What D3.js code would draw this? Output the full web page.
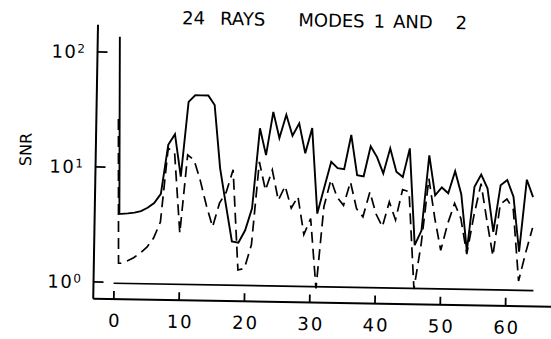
<!DOCTYPE html>
<html>
<head>
<meta charset="utf-8">
<script src="https://cdn.jsdelivr.net/npm/d3@7"></script>
<style>
  html, body { margin: 0; padding: 0; background: #fff; }
  svg { display: block; }
  text { font-family: "DejaVu Sans", "Liberation Sans", sans-serif; fill: #000; }
</style>
</head>
<body>
<svg id="chart" width="551" height="339"></svg>
<script>
// Ray number along the section (the first two entries form the start-up spike)
const rayPosition = [0.3, 0.7, 1, 2, 3, 4, 5, 6, 7, 8, 9, 10, 11, 12, 13, 14, 15, 16,
  17, 18, 19, 20, 21, 22, 23, 24, 25, 26, 27, 28, 29, 30, 31, 32, 33, 34, 35, 36,
  37, 38, 39, 40, 41, 42, 43, 44, 45, 46, 47, 48, 49, 50, 51, 52, 53, 54, 55, 56,
  57, 58, 59, 60, 61, 62, 63, 64];

// SNR, mode 1 (solid)
const snrMode1 = [135, 3.9, 3.9, 3.95, 4.02, 4.15, 4.45, 4.9, 5.9, 15.8, 19.6, 8.4,
  37.6, 43, 43, 43, 35.6, 10.1, 4.8, 2.33, 2.28, 2.93, 4.57, 22.7, 13.3, 31.7, 18.8,
  30, 19.8, 25.4, 14.0, 23.2, 4.2, 7.1, 11.9, 10.5, 10.3, 20.5, 9.2, 9.0, 16.5, 13.3,
  9.6, 15.9, 10.0, 9.0, 16.0, 2.31, 3.1, 14.0, 6.3, 7.4, 6.6, 10.3, 6.5, 2.1, 7.6,
  9.7, 7.4, 3.1, 7.9, 8.8, 6.3, 2.1, 8.9, 6.3];

// SNR, mode 2 (dashed)
const snrMode2 = [26, 1.45, 1.45, 1.52, 1.63, 1.79, 2.02, 2.43, 3.35, 14.8, 13.4, 2.71,
  13.0, 11.7, 7.8, 4.75, 3.1, 5.0, 6.25, 9.8, 1.32, 1.37, 2.2, 11.6, 6.6, 9.9, 5.4,
  7.2, 4.65, 5.85, 2.75, 3.8, 0.94, 4.85, 8.3, 5.85, 5.0, 8.0, 4.7, 4.0, 6.6, 4.25,
  3.3, 5.45, 3.8, 7.0, 6.7, 0.96, 2.4, 8.8, 4.0, 2.1, 3.6, 5.4, 4.0, 1.97, 4.3, 8.1,
  3.85, 1.92, 5.4, 6.0, 4.9, 1.17, 2.05, 3.4];

// Unit-SNR reference line
const referenceX = [0, 64.3];
const referenceSnr = [0.97, 0.97];

const xTickValues = [0, 10, 20, 30, 40, 50, 60];
const yTickValues = [1, 10, 100];
const yTickExponents = ["0", "1", "2"];

const titleWords = ["24", "RAYS", "MODES", "1", "AND", "2"];
const yLabel = "SNR";

const svg = d3.select("#chart");

// the whole plate sits about one degree off square on the page
const plate = svg.append("g").attr("transform", "rotate(1, 113, 283)");

const x = d3.scaleLinear().domain([0, 60]).range([113.6, 505.4]);
const y = d3.scaleLog().domain([1, 100]).range([281.7, 51.7]);

const axisX0 = 93.5;   // left edge of frame
const axisY0 = 299;    // bottom edge of frame

// frame lines
plate.append("line")
  .attr("x1", axisX0).attr("x2", axisX0)
  .attr("y1", 25).attr("y2", axisY0)
  .attr("stroke", "#000").attr("stroke-width", 2);
plate.append("line")
  .attr("x1", axisX0).attr("x2", 570)
  .attr("y1", axisY0).attr("y2", axisY0)
  .attr("stroke", "#000").attr("stroke-width", 2);

// x axis: ticks pointing up into the plot
const xAxis = d3.axisBottom(x)
  .tickValues(xTickValues)
  .tickSizeInner(-8)
  .tickSizeOuter(0)
  .tickPadding(15)
  .tickFormat(d3.format("d"));

const gx = plate.append("g")
  .attr("transform", `translate(0,${axisY0})`)
  .call(xAxis);
gx.select(".domain").remove();
gx.selectAll(".tick line").attr("stroke", "#000").attr("stroke-width", 1.8);
gx.selectAll(".tick text")
  .attr("font-size", 18)
  .attr("letter-spacing", 2)
  .attr("x", 1.5)
  .style("font-family", "DejaVu Sans, sans-serif");

// y axis: ticks pointing right, labels as powers of ten
const yAxis = d3.axisLeft(y)
  .tickValues(yTickValues)
  .tickSizeInner(-10)
  .tickSizeOuter(0)
  .tickPadding(11)
  .tickFormat(() => "10");

const gy = plate.append("g")
  .attr("transform", `translate(${axisX0},0)`)
  .call(yAxis);
gy.select(".domain").remove();
gy.selectAll(".tick line").attr("stroke", "#000").attr("stroke-width", 1.8);
gy.selectAll(".tick text")
  .attr("font-size", 18)
  .attr("letter-spacing", 1.5)
  .attr("dy", "0.36em")
  .style("font-family", "DejaVu Sans, sans-serif")
  .each(function (d) {
    const i = yTickValues.indexOf(d);
    d3.select(this).append("tspan")
      .attr("dy", "-0.45em")
      .attr("font-size", 12)
      .text(yTickExponents[i]);
  });

// y label
plate.append("text")
  .attr("transform", "translate(29,151) rotate(-90)")
  .attr("text-anchor", "middle")
  .attr("font-size", 16)
  .text(yLabel);

// title, set word by word in the wide plotter spacing
const titleX = [177.5, 215.5, 293.7, 369, 388.5, 451];
plate.append("text")
  .attr("y", 23)
  .attr("font-size", 18)
  .selectAll("tspan")
  .data(titleWords)
  .join("tspan")
  .attr("x", (d, i) => titleX[i])
  .text(d => d);

// series
const line = d3.line()
  .x(d => x(d[0]))
  .y(d => y(d[1]));

plate.append("path")
  .datum(referenceX.map((v, i) => [v, referenceSnr[i]]))
  .attr("d", line)
  .attr("fill", "none")
  .attr("stroke", "#000")
  .attr("stroke-width", 1.7);

plate.append("path")
  .datum(rayPosition.map((v, i) => [v, snrMode2[i]]))
  .attr("d", line)
  .attr("fill", "none")
  .attr("stroke", "#000")
  .attr("stroke-width", 1.7)
  .attr("stroke-dasharray", "11,6");

plate.append("path")
  .datum(rayPosition.map((v, i) => [v, snrMode1[i]]))
  .attr("d", line)
  .attr("fill", "none")
  .attr("stroke", "#000")
  .attr("stroke-width", 1.9)
  .attr("stroke-linejoin", "miter");
</script>
</body>
</html>
